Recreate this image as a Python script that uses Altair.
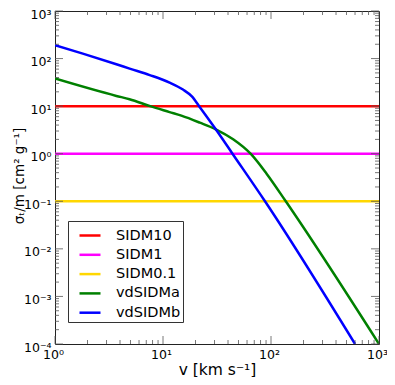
import altair as alt
import pandas as pd

# ---- data ----
series = ["SIDM10", "SIDM1", "SIDM0.1", "vdSIDMa", "vdSIDMb"]
colors = ["#ff0000", "#ff00ff", "#ffd700", "#008000", "#0000ff"]

const_v = [1, 1000]
sidm10_s = [10, 10]
sidm1_s = [1, 1]
sidm01_s = [0.1, 0.1]

vda_v = [1, 3.7, 4.9, 7.6, 11.5, 14.8, 21.9, 30.8, 44.6, 64.7, 91, 137, 1000]
vda_s = [38, 16.4, 14.0, 10, 7.5, 6.3, 4.5, 3.26, 2.01, 1.0, 0.38, 0.1, 1.0e-4]

vdb_v = [1, 1.81, 3.7, 4.91, 7.53, 11.5, 15.3, 18.5, 21.6, 30.8, 44.0, 88, 600]
vdb_s = [190, 127, 76, 61.5, 45.0, 31.3, 22.3, 16.0, 10, 3.26, 1, 0.1, 1e-4]

x_major = [1, 10, 100, 1000]
x_labels = ["10⁰", "10¹", "10²", "10³"]
y_major = [1e-4, 1e-3, 1e-2, 1e-1, 1, 10, 100, 1000]
y_labels = ["10⁻⁴", "10⁻³", "10⁻²", "10⁻¹", "10⁰", "10¹", "10²", "10³"]
minor_mult = [2, 3, 4, 5, 6, 7, 8, 9]

W, H = 324, 333
MAJ, MIN = 8, 4

rows = []
for name, vs, ss in [("SIDM10", const_v, sidm10_s), ("SIDM1", const_v, sidm1_s),
                     ("SIDM0.1", const_v, sidm01_s), ("vdSIDMa", vda_v, vda_s),
                     ("vdSIDMb", vdb_v, vdb_s)]:
    for v, s in zip(vs, ss):
        rows.append({"series": name, "v": v, "sigma": s, "order": series.index(name)})
df = pd.DataFrame(rows)

x_minor = [m * d for d in x_major[:-1] for m in minor_mult]
y_minor = [m * d for d in y_major[:-1] for m in minor_mult]
xt = pd.DataFrame({"tv": x_major + x_minor, "major": [True] * len(x_major) + [False] * len(x_minor)})
yt = pd.DataFrame({"tv": y_major + y_minor, "major": [True] * len(y_major) + [False] * len(y_minor)})

xscale = alt.Scale(type="log", domain=[1, 1000], nice=False)
yscale = alt.Scale(type="log", domain=[1e-4, 1000], nice=False)

x_lab_expr = "[" + ",".join("'" + s + "'" for s in x_labels) + "][round(log(datum.value)/LN10)]"
y_lab_expr = "[" + ",".join("'" + s + "'" for s in y_labels) + "][round(log(datum.value)/LN10)+4]"

x_axis = alt.Axis(values=x_major, labelExpr=x_lab_expr, ticks=False, domain=False, grid=False,
                  labelFlush=False, labelFont="DejaVu Sans", labelFontSize=12.5, labelColor="black",
                  labelPadding=4, labelOffset=-2,
                  title="v [km s⁻¹]", titleFont="DejaVu Sans", titleFontSize=15.5,
                  titleFontWeight="normal", titleColor="black",
                  titleX=W / 2, titleY=30, titleBaseline="alphabetic", titleAlign="center")
y_axis = alt.Axis(values=y_major, labelExpr=y_lab_expr, ticks=False, domain=False, grid=False,
                  labelFlush=False, labelFont="DejaVu Sans", labelFontSize=12.5, labelColor="black",
                  labelPadding=4, labelOffset=3,
                  title="σₜ/m [cm² g⁻¹]", titleFont="DejaVu Sans", titleFontSize=13.5,
                  titleFontWeight="normal", titleColor="black",
                  titleX=-32, titleY=H / 2 - 2, titleBaseline="alphabetic", titleAlign="center",
                  titleAngle=270)

lines = alt.Chart(df).mark_line(strokeWidth=2.5, clip=True, interpolate="monotone").encode(
    x=alt.X("v:Q", scale=xscale, axis=x_axis),
    y=alt.Y("sigma:Q", scale=yscale, axis=y_axis),
    color=alt.Color("series:N", scale=alt.Scale(domain=series, range=colors),
                    legend=alt.Legend(orient="none", legendX=13, legendY=210, title=None,
                                      padding=2.5, strokeColor="#333", fillColor="white",
                                      cornerRadius=0, symbolType="stroke", symbolSize=441,
                                      symbolOffset=7.5,
                                      symbolStrokeWidth=2.5, labelFontSize=14.5, labelFont="DejaVu Sans",
                                      labelColor="black", labelOffset=14, rowPadding=0.3)),
    order=alt.Order("order:Q"),
    detail="series:N",
)

tick_color = "#555"

def xticks(major, top):
    ln = MAJ if major else MIN
    c = alt.Chart(xt).transform_filter(alt.datum.major == major).mark_rule(color=tick_color, strokeWidth=0.8)
    if top:
        return c.encode(x=alt.X("tv:Q", scale=xscale, axis=x_axis), y=alt.value(0), y2=alt.value(ln))
    return c.encode(x=alt.X("tv:Q", scale=xscale, axis=x_axis), y=alt.value(H), y2=alt.value(H - ln))

def yticks(major, right):
    ln = MAJ if major else MIN
    c = alt.Chart(yt).transform_filter(alt.datum.major == major).mark_rule(color=tick_color, strokeWidth=0.8)
    if right:
        return c.encode(y=alt.Y("tv:Q", scale=yscale, axis=y_axis), x=alt.value(W), x2=alt.value(W - ln))
    return c.encode(y=alt.Y("tv:Q", scale=yscale, axis=y_axis), x=alt.value(0), x2=alt.value(ln))

tick_layers = [xticks(m, t) for m in (True, False) for t in (True, False)] + \
              [yticks(m, r) for m in (True, False) for r in (True, False)]

chart = alt.layer(lines, *tick_layers).properties(
    width=W, height=H,
    autosize=alt.AutoSizeParams(type="none"),
    padding={"left": 47, "top": 3, "right": 8, "bottom": 33},
).configure_view(stroke="#222", strokeWidth=1).configure_legend(strokeWidth=1)

chart.save("out.html", embed_options={"renderer": "svg", "actions": False})
